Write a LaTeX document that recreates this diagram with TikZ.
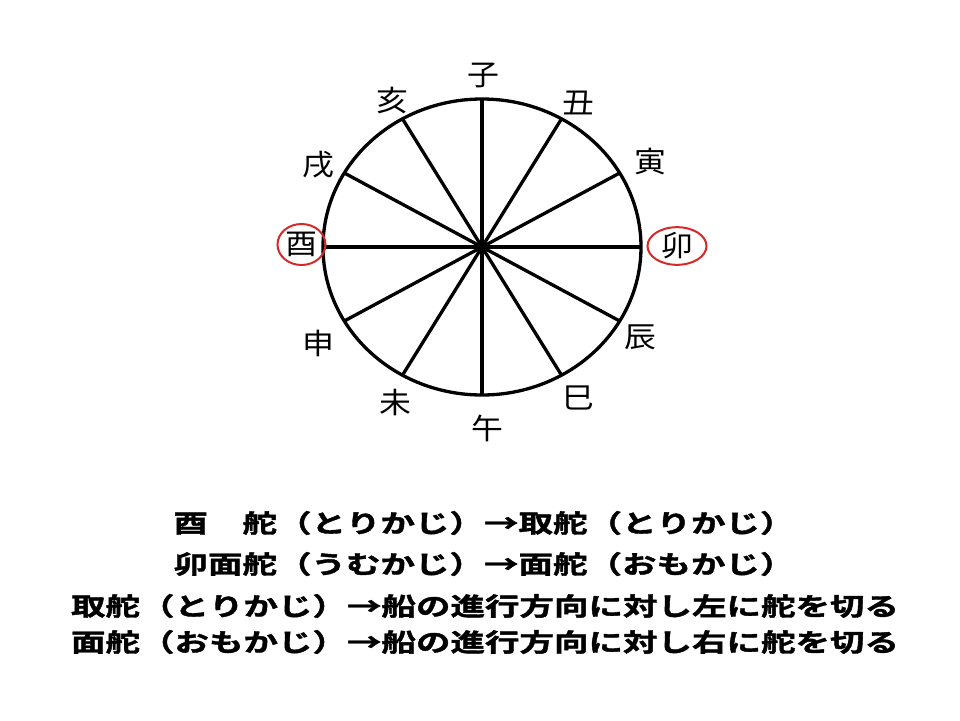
\documentclass[tikz,border=0pt]{standalone}
\usepackage{fontspec}
\newfontfamily\jplight[FakeStretch=1.1]{Noto Sans CJK JP}
\newfontfamily\jpbold[FakeStretch=1.38,FakeBold=1.6]{Noto Sans CJK JP Bold}
\usetikzlibrary{shapes.geometric}
\definecolor{markred}{RGB}{214,40,40}

\begin{document}
\begin{tikzpicture}[x=1pt,y=-1pt,
    sign/.style={font=\jplight\fontsize{29}{29}\selectfont, inner sep=0pt},
    ring/.style={ellipse,draw=markred,line width=2pt},
    rule/.style={font=\jpbold\fontsize{25}{25}\selectfont, inner sep=0pt}]
    \useasboundingbox (0,0) rectangle (960,720);
    \coordinate (o) at (482,247);
    \draw[line width=3.3pt] (o) ellipse [x radius=159pt, y radius=148pt];
    \foreach \a in {0,30,...,330} {
        \path (o) ++(\a:159pt and 148pt) coordinate (p\a);
        \draw[line width=3.3pt] (o) -- (p\a);
    }
    \node[sign] (rat) at (483,75) {子};
    \node[sign] (ox) at (578,103) {丑};
    \node[sign] (tiger) at (650,162) {寅};
    \node[sign,ring,minimum width=59pt,minimum height=34pt] (rabbit) at (677,246) {卯};
    \node[sign] (dragon) at (640,337) {辰};
    \node[sign] (snake) at (578,398) {巳};
    \node[sign] (horse) at (487,428) {午};
    \node[sign] (goat) at (395,402) {未};
    \node[sign] (monkey) at (318,343) {申};
    \node[sign,ring,minimum width=48pt,minimum height=41pt] (rooster) at (301.5,244.5) {酉};
    \node[sign] (dog) at (318,165) {戌};
    \node[sign] (boar) at (392,100) {亥};

    \node[rule] (l1) at (484,523) {酉　舵（とりかじ）→取舵（とりかじ）};
    \node[rule] (l2) at (484,564) {卯面舵（うむかじ）→面舵（おもかじ）};
    \node[rule] (l3) at (485,606) {取舵（とりかじ）→船の進行方向に対し左に舵を切る};
    \node[rule] (l4) at (485,642) {面舵（おもかじ）→船の進行方向に対し右に舵を切る};
\end{tikzpicture}
\end{document}
